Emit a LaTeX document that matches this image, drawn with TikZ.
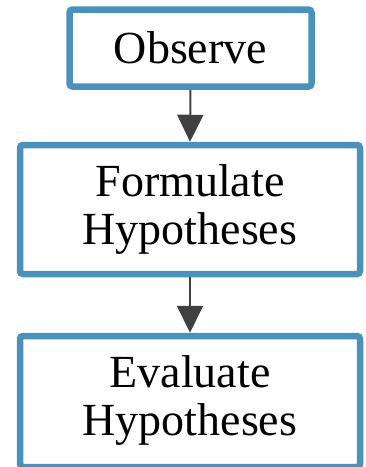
\documentclass[tikz,border=0pt]{standalone}
\usepackage{fontspec}
\setmainfont{Liberation Serif}
\usetikzlibrary{arrows.meta}

\definecolor{stepblue}{RGB}{72,146,188}
\definecolor{arrowgray}{RGB}{64,64,64}

\begin{document}
\begin{tikzpicture}[
	x=1pt, y=-1pt,
	stepbox/.style={draw=stepblue, line width=6.5pt, rounded corners=3pt, fill=white,
		align=center, inner sep=0pt, font=\fontsize{46}{48}\selectfont},
	flow/.style={draw=arrowgray, line width=2pt, -{Triangle[width=26pt, length=27pt]}}
	]
	% Page size
	\useasboundingbox (0,0) rectangle (366,467);
	
	% Steps
	\node[stepbox, minimum width=242pt, minimum height=77pt] (observe) at (190.5,48) {Observe};
	\node[stepbox, minimum width=340pt, minimum height=129pt] (formulate) at (190,209.5) {Formulate\\Hypotheses};
	% text sits a bit low in the last box
	\node[stepbox, minimum width=340pt, minimum height=131pt] (evaluate) at (190,401.5)
		{\raisebox{-8pt}{\begin{tabular}{@{}c@{}}Evaluate\\Hypotheses\end{tabular}}};
	
	% Arrows
	\draw[flow] (observe.south) -- (formulate.north);
	\draw[flow] (formulate.south) -- (evaluate.north);
\end{tikzpicture}
\end{document}
